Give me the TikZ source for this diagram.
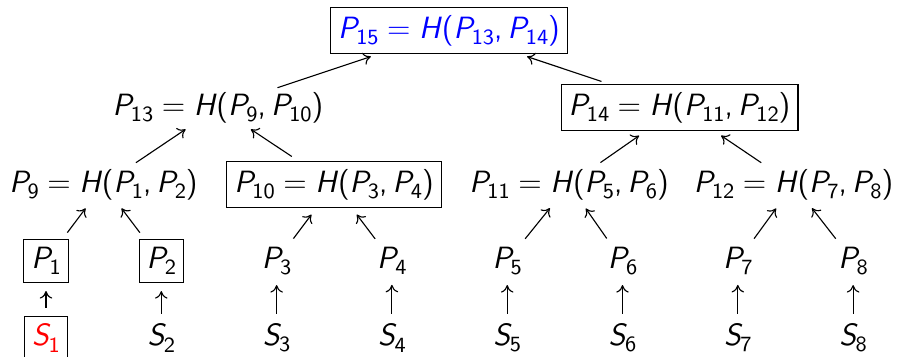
\documentclass[tikz,border=0pt]{standalone}
\usetikzlibrary{arrows.meta}
\newcommand\mysub[1]{\raisebox{-0.2em}{\fontsize{8.7}{9}\selectfont #1}}
\newcommand\Pn[1]{{\slshape P}\kern-0.03em\mysub{#1}}
\newcommand\Sn[1]{{\slshape S}\kern-0.01em\mysub{#1}}
\newcommand\eqH{\hspace{0.2778em}=\hspace{0.2778em}{\slshape H}\kern0.05em(}
\newcommand\cm{,\hspace{0.1667em}}
\begin{document}
\begin{tikzpicture}[x=0.4pt,y=-0.4pt,line width=0.45pt,
  every node/.style={font=\fontsize{12.3}{14}\selectfont\sffamily},
  plain/.style={inner sep=0.5pt},
  boxed/.style={draw,inner sep=3pt},
  arr/.style={-{To[length=3pt,width=5pt]},shorten <=3.3pt,shorten >=3.3pt}]
\useasboundingbox (0,0) rectangle (897,356);
% level 5
\node[boxed,text=blue] (P15) at (449,30.5) {\Pn{15}\eqH\Pn{13}\cm\Pn{14})};
% level 4
\node[plain] (P13) at (218,107.5) {\Pn{13}\eqH\Pn{9}\cm\Pn{10})};
\node[boxed] (P14) at (679.5,107.5) {\Pn{14}\eqH\Pn{11}\cm\Pn{12})};
% level 3
\node[plain] (P9) at (103.5,184.5) {\Pn{9}\eqH\Pn{1}\cm\Pn{2})};
\node[boxed] (P10) at (334,184.5) {\Pn{10}\eqH\Pn{3}\cm\Pn{4})};
\node[plain] (P11) at (569,184.5) {\Pn{11}\eqH\Pn{5}\cm\Pn{6})};
\node[plain] (P12) at (793.5,184.5) {\Pn{12}\eqH\Pn{7}\cm\Pn{8})};
% level 2
\node[boxed] (P1) at (46,261) {\Pn{1}};
\node[boxed] (P2) at (161.3,261) {\Pn{2}};
\node[plain] (P3) at (276.6,261) {\Pn{3}};
\node[plain] (P4) at (391.9,261) {\Pn{4}};
\node[plain] (P5) at (507.2,261) {\Pn{5}};
\node[plain] (P6) at (622.5,261) {\Pn{6}};
\node[plain] (P7) at (737.8,261) {\Pn{7}};
\node[plain] (P8) at (853.1,261) {\Pn{8}};
% level 1
\node[boxed,text=red] (S1) at (46,338) {\Sn{1}};
\node[plain] (S2) at (161.3,338) {\Sn{2}};
\node[plain] (S3) at (276.6,338) {\Sn{3}};
\node[plain] (S4) at (391.9,338) {\Sn{4}};
\node[plain] (S5) at (507.2,338) {\Sn{5}};
\node[plain] (S6) at (622.5,338) {\Sn{6}};
\node[plain] (S7) at (737.8,338) {\Sn{7}};
\node[plain] (S8) at (853.1,338) {\Sn{8}};
% arrows
\foreach \i in {1,...,8} \draw[arr] (S\i) -- (P\i);
\draw[arr] (P1) -- (P9);
\draw[arr] (P2) -- (P9);
\draw[arr] (P3) -- (P10);
\draw[arr] (P4) -- (P10);
\draw[arr] (P5) -- (P11);
\draw[arr] (P6) -- (P11);
\draw[arr] (P7) -- (P12);
\draw[arr] (P8) -- (P12);
\draw[arr] (P9) -- (P13);
\draw[arr] (P10) -- (P13);
\draw[arr] (P11) -- (P14);
\draw[arr] (P12) -- (P14);
\draw[arr] (P13) -- (P15);
\draw[arr] (P14) -- (P15);
\end{tikzpicture}
\end{document}
